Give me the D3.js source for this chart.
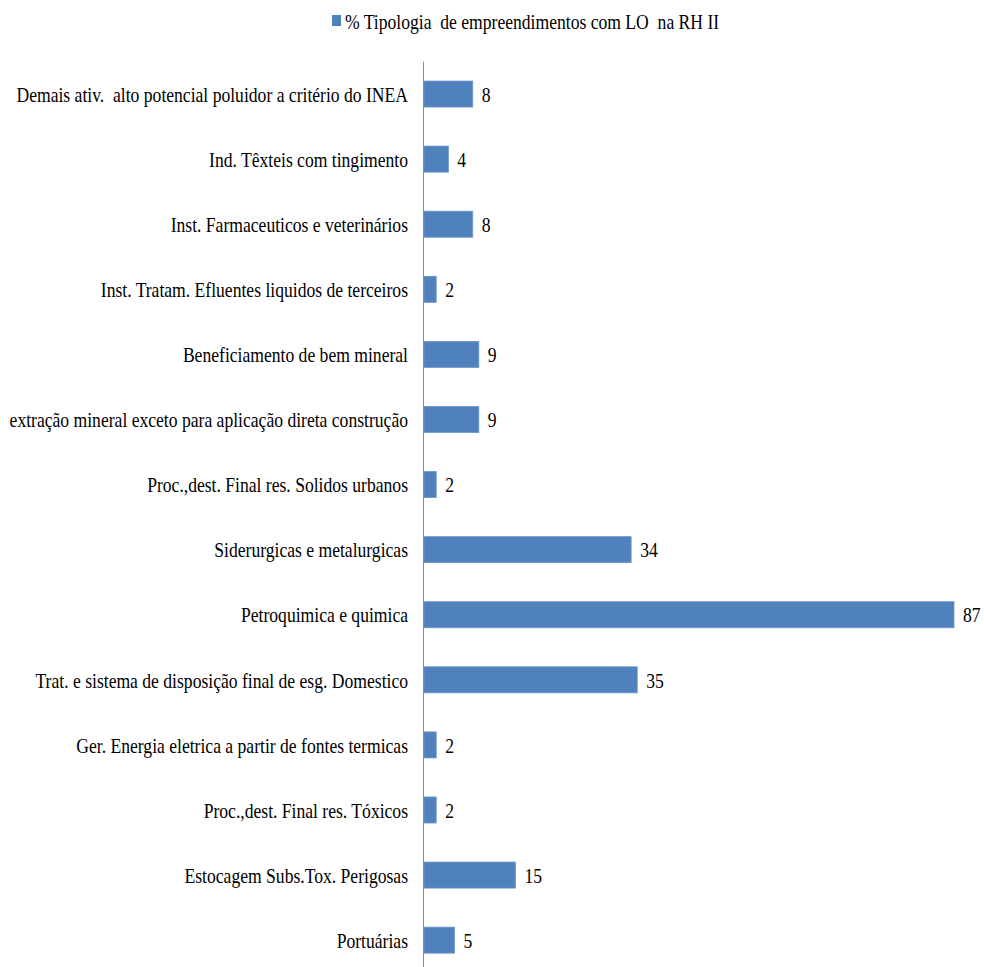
<!DOCTYPE html>
<html>
<head>
<meta charset="utf-8">
<script src="https://cdn.jsdelivr.net/npm/d3@7"></script>
<style>
  html, body { margin: 0; padding: 0; background: #fff; }
  svg { display: block; }
</style>
</head>
<body>
<svg id="chart" width="984" height="967"></svg>
<script>
// Tipologia de empreendimentos com LO na RH II (%)
const categories = [
  "Demais ativ.  alto potencial poluidor a critério do INEA",
  "Ind. Têxteis com tingimento",
  "Inst. Farmaceuticos e veterinários",
  "Inst. Tratam. Efluentes liquidos de terceiros",
  "Beneficiamento de bem mineral",
  "extração mineral exceto para aplicação direta construção",
  "Proc.,dest. Final res. Solidos urbanos",
  "Siderurgicas e metalurgicas",
  "Petroquimica e quimica",
  "Trat. e sistema de disposição final de esg. Domestico",
  "Ger. Energia eletrica a partir de fontes termicas",
  "Proc.,dest. Final res. Tóxicos",
  "Estocagem Subs.Tox. Perigosas",
  "Portuárias"
];
const values = [8, 4, 8, 2, 9, 9, 2, 34, 87, 35, 2, 2, 15, 5];
const seriesName = "% Tipologia  de empreendimentos com LO  na RH II";

const svg = d3.select("#chart");
const squeeze = 0.8;       // narrow serif lettering
const fontSize = 22;
const fontFamily = "'Liberation Serif', 'Times New Roman', serif";
const barColor = "#4F81BD";

const axisX = 424;
const x = d3.scaleLinear().domain([0, 87]).range([axisX, 954]);
const y = d3.scaleBand()
  .domain(categories)
  .range([61.5, 972.7])
  .paddingInner(0.6)
  .paddingOuter(0.3);

const rows = categories.map((c, i) => ({ cat: c, val: values[i] }));

// bars
svg.append("g").selectAll("rect")
  .data(rows)
  .join("rect")
  .attr("x", x(0))
  .attr("y", d => y(d.cat))
  .attr("width", d => x(d.val) - x(0))
  .attr("height", y.bandwidth())
  .attr("fill", barColor)
  .attr("stroke", "#6d95c9")
  .attr("stroke-width", 0.8);

// vertical category axis line
svg.append("line")
  .attr("x1", axisX - 0.5).attr("x2", axisX - 0.5)
  .attr("y1", 61.5).attr("y2", 972.7)
  .attr("stroke", "#8c8c8c")
  .attr("stroke-width", 1);

// category labels
svg.append("g").selectAll("text")
  .data(rows)
  .join("text")
  .attr("transform", d => `translate(${axisX - 16},${y(d.cat) + y.bandwidth() / 2}) scale(${squeeze},1)`)
  .attr("text-anchor", "end")
  .attr("dy", "0.35em")
  .attr("font-family", fontFamily)
  .attr("font-size", fontSize)
  .style("white-space", "pre")
  .text(d => d.cat);

// value labels
svg.append("g").selectAll("text")
  .data(rows)
  .join("text")
  .attr("transform", d => `translate(${x(d.val) + 9},${y(d.cat) + y.bandwidth() / 2}) scale(${squeeze},1)`)
  .attr("dy", "0.35em")
  .attr("font-family", fontFamily)
  .attr("font-size", fontSize)
  .text(d => d.val);

// legend
const legend = svg.append("g");
legend.append("rect")
  .attr("x", 332).attr("y", 15)
  .attr("width", 9).attr("height", 11)
  .attr("fill", barColor);
legend.append("text")
  .attr("transform", `translate(345,21) scale(${squeeze},1)`)
  .attr("dy", "0.35em")
  .attr("font-family", fontFamily)
  .attr("font-size", 22)
  .style("white-space", "pre")
  .text(seriesName);
</script>
</body>
</html>
